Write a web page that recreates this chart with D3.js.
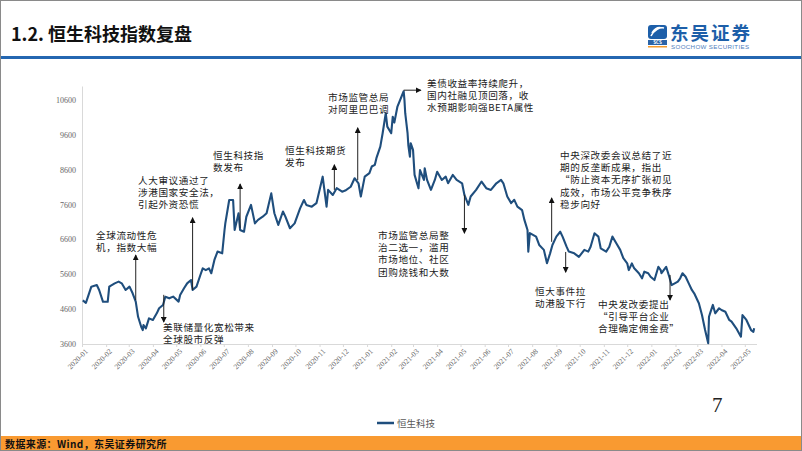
<!DOCTYPE html>
<html>
<head>
<meta charset="UTF-8">
<script src="https://cdn.jsdelivr.net/npm/d3@7"></script>
<style>
	body { margin: 0; background: #fff; }
	svg { display: block; font-family: "Noto Sans CJK SC", sans-serif; }
</style>
</head>
<body>
<script>
// 恒生科技指数
const dates = [
	'2020-01-02','2020-01-06','2020-01-13','2020-01-20','2020-01-23','2020-01-28','2020-02-03','2020-02-05',
	'2020-02-12','2020-02-17','2020-02-21','2020-02-26','2020-03-02','2020-03-06','2020-03-10','2020-03-13',
	'2020-03-17','2020-03-19','2020-03-20','2020-03-23','2020-03-27','2020-04-01','2020-04-06','2020-04-09',
	'2020-04-14','2020-04-17','2020-04-22','2020-04-27','2020-05-04','2020-05-06','2020-05-11','2020-05-15',
	'2020-05-20','2020-05-22','2020-05-27','2020-06-01','2020-06-04','2020-06-08','2020-06-12','2020-06-15',
	'2020-06-19','2020-06-23','2020-06-29','2020-07-02','2020-07-03','2020-07-08','2020-07-13','2020-07-15',
	'2020-07-20','2020-07-22','2020-07-27','2020-07-30','2020-08-05','2020-08-10','2020-08-14','2020-08-20',
	'2020-08-25','2020-08-31','2020-09-04','2020-09-09','2020-09-15','2020-09-18','2020-09-24','2020-09-30',
	'2020-10-07','2020-10-12','2020-10-15','2020-10-22','2020-10-28','2020-11-02','2020-11-05','2020-11-10',
	'2020-11-12','2020-11-18','2020-11-23','2020-11-30','2020-12-04','2020-12-11','2020-12-16','2020-12-21',
	'2020-12-24','2020-12-29','2021-01-04','2021-01-07','2021-01-11','2021-01-13','2021-01-18','2021-01-21',
	'2021-01-25','2021-01-27','2021-02-01','2021-02-03','2021-02-05','2021-02-09','2021-02-17','2021-02-18',
	'2021-02-19','2021-02-22','2021-02-23','2021-02-25','2021-02-26','2021-03-01','2021-03-03','2021-03-08',
	'2021-03-10','2021-03-15','2021-03-16','2021-03-19','2021-03-24','2021-03-29','2021-04-01','2021-04-07',
	'2021-04-12','2021-04-15','2021-04-21','2021-04-26','2021-05-03','2021-05-06','2021-05-11','2021-05-14',
	'2021-05-21','2021-05-28','2021-06-03','2021-06-09','2021-06-16','2021-06-22','2021-06-25','2021-06-30',
	'2021-07-05','2021-07-09','2021-07-13','2021-07-19','2021-07-22','2021-07-26','2021-07-27','2021-07-29',
	'2021-08-02','2021-08-06','2021-08-10','2021-08-16','2021-08-20','2021-08-24','2021-08-27','2021-09-01',
	'2021-09-06','2021-09-09','2021-09-14','2021-09-17','2021-09-24','2021-09-30','2021-10-07','2021-10-12',
	'2021-10-15','2021-10-20','2021-10-25','2021-10-28','2021-11-04','2021-11-08','2021-11-12','2021-11-17',
	'2021-11-22','2021-11-26','2021-12-01','2021-12-03','2021-12-07','2021-12-10','2021-12-16','2021-12-20',
	'2021-12-23','2021-12-28','2021-12-31','2022-01-05','2022-01-10','2022-01-13','2022-01-14','2022-01-20',
	'2022-01-24','2022-01-27','2022-02-04','2022-02-07','2022-02-10','2022-02-14','2022-02-18','2022-02-22',
	'2022-02-25','2022-03-03','2022-03-07','2022-03-11','2022-03-15','2022-03-16','2022-03-18','2022-03-21',
	'2022-03-24','2022-03-29','2022-04-01','2022-04-06','2022-04-11','2022-04-14','2022-04-20','2022-04-26',
	'2022-04-28','2022-05-03','2022-05-09','2022-05-12','2022-05-13'
];
const values = [
	4850, 4780, 5245, 5290, 5150, 4810, 4810, 5245,
	5340, 5390, 5340, 5150, 5245, 5055, 4815, 4380,
	4095, 4000, 4145, 4050, 4335, 4290, 4480, 4625,
	4720, 4955, 4910, 4960, 4815, 5005, 5200, 5340,
	5435, 5150, 5245, 5580, 5770, 5720, 5770, 5630,
	6010, 6250, 6200, 6870, 7060, 7730, 7730, 6870,
	7350, 6870, 6820, 7250, 7590, 7060, 7160, 7250,
	7350, 7920, 7350, 7015, 7400, 7260, 6920, 7060,
	7490, 7730, 7590, 7540, 7640, 8110, 8400, 7540,
	8020, 7875, 8070, 7970, 8000, 8110, 8355, 8210,
	7830, 8400, 8500, 8690, 8740, 8930, 9260, 9645,
	10220, 9835, 9645, 10120, 9950, 10410, 10850, 10600,
	10220, 9645, 9300, 8975, 9360, 9170, 8450, 8065,
	8590, 8305, 8640, 8305, 8020, 8305, 8540, 8305,
	8400, 8210, 8450, 8305, 8210, 7875, 7590, 7830,
	8020, 8260, 8070, 8020, 8210, 8305, 8210, 7830,
	7640, 7735, 7540, 7440, 7160, 6870, 6250, 6780,
	6730, 6680, 6440, 6300, 5915, 6200, 6440, 6680,
	6820, 6680, 6400, 6250, 6200, 6100, 6300, 6250,
	6390, 6775, 6680, 6345, 6250, 6390, 6680, 6490,
	6300, 6060, 5915, 5720, 5910, 5770, 5630, 5485,
	5675, 5630, 5530, 5435, 5815, 5720, 5630, 5815,
	5530, 5290, 5390, 5485, 5630, 5530, 5340, 5150,
	5055, 4770, 4430, 4000, 3620, 4380, 4520, 4720,
	4480, 4625, 4575, 4525, 4290, 4240, 4050, 3810,
	4430, 4290, 4000, 3950, 4050
];
const yTicks = [3600, 4600, 5600, 6600, 7600, 8600, 9600, 10600];
const seriesName = '恒生科技';

// 事件标注: 文字 + 箭头(起止日期, 起点值, 终点值)
const noteText = [
	['全球流动性危', '机，指数大幅'],
	['人大审议通过了', '涉港国家安全法，', '引起外资恐慌'],
	['恒生科技指', '数发布'],
	['恒生科技期货', '发布'],
	['市场监管总局', '对阿里巴巴调'],
	['美债收益率持续爬升，', '国内社融见顶回落，收', '水预期影响强BETA属性'],
	['市场监管总局整', '治二选一，滥用', '市场地位、社区', '团购烧钱和大数'],
	['中央深改委会议总结了近', '期的反垄断成果，指出', '“防止资本无序扩张初见', '成效，市场公平竞争秩序', '稳步向好'],
	['恒大事件拉', '动港股下行'],
	['中央发改委提出', '“引导平台企业', '合理确定佣金费”'],
	['美联储量化宽松带来', '全球股市反弹']
];
const noteArrows = [
	['2020-03-10', '2020-03-10', 4860, 6150],
	['2020-05-22', '2020-05-22', 5150, 7220],
	['2020-07-22', '2020-07-22', 6930, 8190],
	['2020-11-20', '2020-11-20', 8020, 8740],
	['2020-12-20', '2020-12-20', 8300, 9800],
	['2021-02-17', '2021-03-11', 10880, 10880],
	['2021-05-06', '2021-05-06', 7880, 6780],
	['2021-08-26', '2021-08-26', 6530, 7790],
	['2021-09-13', '2021-09-13', 6240, 5660],
	['2022-01-25', '2022-01-25', 5580, 4860],
	['2020-04-15', '2020-04-15', 5010, 4230]
];
const notePos = [[96, 239], [138, 184], [213, 159], [285, 154], [328, 101], [427, 87], [378, 239], [560, 159], [535, 295], [598, 308], [163, 331]];

const W = 802, H = 451;
const parse = d3.timeParse('%Y-%m-%d');
const series = dates.map((d, i) => ({date: parse(d), value: values[i]}));

const svg = d3.select('body').append('svg')
	.attr('width', W).attr('height', H);

svg.append('defs').append('marker')
	.attr('id', 'arr')
	.attr('viewBox', '0 0 8 8')
	.attr('refX', 7).attr('refY', 4)
	.attr('markerWidth', 6).attr('markerHeight', 6)
	.attr('markerUnits', 'userSpaceOnUse')
	.attr('orient', 'auto')
	.append('path').attr('d', 'M0,0L8,4L0,8Z').attr('fill', '#111');

// header
svg.append('text')
	.attr('x', 11).attr('y', 41)
	.attr('font-size', 18).attr('font-weight', 'bold').attr('fill', '#111')
	.text('1.2. 恒生科技指数复盘');

const logo = svg.append('g');
logo.append('rect').attr('x', 648).attr('y', 25).attr('width', 19).attr('height', 14).attr('rx', 3).attr('fill', '#1d5fa9');
logo.append('path').attr('d', 'M651,36 C654,30 660,27 664,28 M652,33 C655,28 659,27 662,28').attr('stroke', '#fff').attr('stroke-width', 1.6).attr('fill', 'none');
logo.append('rect').attr('x', 648).attr('y', 40).attr('width', 19).attr('height', 5).attr('fill', '#2b64a8');
logo.append('text').attr('x', 657.5).attr('y', 44.2).attr('text-anchor', 'middle').attr('font-size', 4.5).attr('font-weight', 'bold').attr('fill', '#fff').text('SCS');
logo.append('rect').attr('x', 648).attr('y', 46).attr('width', 19).attr('height', 1.5).attr('fill', '#f39a2c');
logo.append('text').attr('x', 670).attr('y', 40).attr('font-size', 18.5).attr('font-weight', 'bold')
	.attr('letter-spacing', 2).attr('fill', '#1d5fa9').text('东吴证券');
logo.append('text').attr('x', 671).attr('y', 49).attr('font-size', 6.2).attr('letter-spacing', 0.35)
	.attr('font-family', 'Liberation Sans, sans-serif').attr('fill', '#4f7ebd').text('SOOCHOW SECURITIES');

svg.append('rect').attr('x', 0).attr('y', 56).attr('width', W).attr('height', 3).attr('fill', '#2467b1');

// chart
const x = d3.scaleTime()
	.domain([parse('2020-01-01'), parse('2022-05-16')])
	.range([82, 756.5]);
const y = d3.scaleLinear()
	.domain([3600, 11000])
	.range([344, 86]);

const yAxis = svg.append('g')
	.attr('transform', 'translate(82,0)')
	.call(d3.axisLeft(y).tickValues(yTicks).tickSize(0).tickPadding(6).tickFormat(d3.format('d')));
yAxis.select('.domain').attr('stroke', '#d9d9d9');
yAxis.selectAll('text')
	.attr('font-family', 'Liberation Serif, serif').attr('font-size', 8).attr('fill', '#666');

const xAxis = svg.append('g')
	.attr('transform', 'translate(0,344)')
	.call(d3.axisBottom(x).ticks(d3.timeMonth.every(1)).tickSize(3).tickSizeOuter(0).tickFormat(d3.timeFormat('%Y-%m')));
xAxis.select('.domain').attr('stroke', '#d9d9d9');
xAxis.selectAll('.tick line').attr('stroke', '#d9d9d9');
xAxis.selectAll('text')
	.attr('font-family', 'Liberation Serif, serif').attr('font-size', 7.5).attr('fill', '#666')
	.attr('text-anchor', 'end')
	.attr('dx', '-0.2em').attr('dy', '0.5em')
	.attr('transform', 'rotate(-45)');

const line = d3.line()
	.x(d => x(d.date))
	.y(d => y(d.value));

svg.append('path')
	.datum(series)
	.attr('d', line)
	.attr('fill', 'none')
	.attr('stroke', '#1f4e7d')
	.attr('stroke-width', 2.1)
	.attr('stroke-linejoin', 'round');

// annotations
noteArrows.forEach((a, i) => {
	svg.append('line')
		.attr('x1', x(parse(a[0]))).attr('y1', y(a[2]))
		.attr('x2', x(parse(a[1]))).attr('y2', y(a[3]))
		.attr('stroke', '#222').attr('stroke-width', 1)
		.attr('marker-end', 'url(#arr)');

	const t = svg.append('text')
		.attr('x', notePos[i][0]).attr('y', notePos[i][1])
		.attr('font-size', 9.6).attr('letter-spacing', 0.6).attr('fill', '#222');
	noteText[i].forEach((s, k) => {
		t.append('tspan').attr('x', notePos[i][0]).attr('dy', k ? 12.2 : 0).text(s);
	});
});

// legend
svg.append('line').attr('x1', 377).attr('x2', 394).attr('y1', 423).attr('y2', 423)
	.attr('stroke', '#1f4e7d').attr('stroke-width', 2.5);
svg.append('text').attr('x', 397).attr('y', 426.5)
	.attr('font-size', 9.5).attr('fill', '#595959').text(seriesName);

// page number + footer
svg.append('text').attr('x', 712).attr('y', 412)
	.attr('font-family', 'Liberation Serif, serif').attr('font-size', 21).attr('fill', '#222').text('7');

svg.append('rect').attr('x', 0).attr('y', 436).attr('width', W).attr('height', H - 436).attr('fill', '#f99a31');
svg.append('text').attr('x', 5).attr('y', 447.5)
	.attr('font-size', 10).attr('letter-spacing', 0.4).attr('font-weight', 'bold').attr('fill', '#111')
	.text('数据来源：Wind，东吴证券研究所');

svg.append('rect').attr('x', 0.5).attr('y', 0.5).attr('width', W - 1).attr('height', H - 1)
	.attr('fill', 'none').attr('stroke', '#8a8a8a');
</script>
</body>
</html>
